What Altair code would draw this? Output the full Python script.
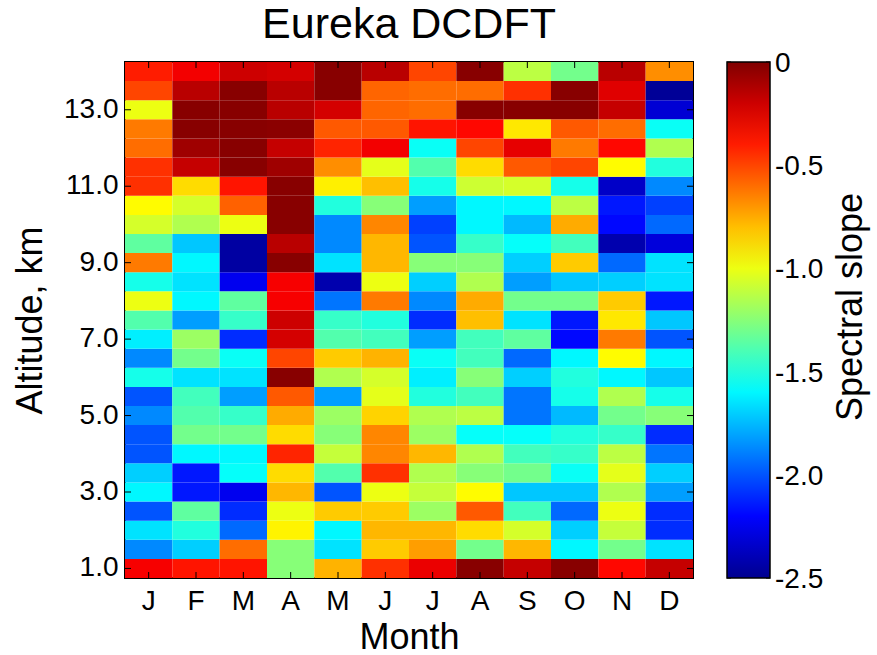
import altair as alt
import pandas as pd

# Month columns (first letter shown on the axis)
months = ["Jan", "Feb", "Mar", "Apr", "May", "Jun",
          "Jul", "Aug", "Sep", "Oct", "Nov", "Dec"]

# Altitude levels, km (bottom to top)
altitudes_km = [1.0, 1.5, 2.0, 2.5, 3.0, 3.5, 4.0, 4.5, 5.0, 5.5, 6.0, 6.5, 7.0,
                7.5, 8.0, 8.5, 9.0, 9.5, 10.0, 10.5, 11.0, 11.5, 12.0, 12.5,
                13.0, 13.5, 14.0]

# Spectral slope per month, listed from 1.0 km up to 14.0 km
jan = [-0.31, -1.87, -1.65, -2.00, -1.60, -1.70, -2.00, -2.00, -1.87, -2.00, -1.53, -1.87, -1.62,
       -1.38, -1.00, -1.53, -0.63, -1.35, -1.06, -0.95, -0.45, -0.45, -0.60, -0.63, -1.00, -0.50, -0.40]
feb = [-0.38, -1.70, -1.50, -1.35, -2.15, -2.15, -1.60, -1.30, -1.38, -1.42, -1.65, -1.30, -1.20,
       -1.82, -1.60, -1.65, -1.60, -1.72, -1.15, -1.06, -0.87, -0.18, -0.08, -0.02, -0.02, -0.15, -0.30]
mar = [-0.38, -0.60, -1.95, -2.10, -2.25, -1.57, -1.60, -1.30, -1.45, -1.82, -1.65, -1.56, -2.10,
       -1.45, -1.35, -2.25, -2.45, -2.45, -1.00, -0.57, -0.38, -0.02, -0.02, -0.02, -0.02, -0.02, -0.20]
apr = [-1.25, -1.25, -0.93, -1.00, -0.78, -0.87, -0.42, -0.87, -0.75, -0.55, -0.02, -0.50, -0.22,
       -0.20, -0.31, -0.31, -0.02, -0.15, -0.02, -0.02, -0.02, -0.08, -0.18, -0.03, -0.15, -0.15, -0.22]
may = [-0.77, -1.65, -1.60, -0.83, -2.00, -1.38, -1.10, -1.25, -1.20, -1.82, -1.15, -0.83, -1.38,
       -1.45, -1.92, -2.42, -1.65, -1.87, -1.87, -1.50, -0.92, -0.68, -0.42, -0.55, -0.22, -0.02, -0.02]
jun = [-0.45, -0.83, -0.78, -0.83, -1.00, -0.45, -0.66, -0.66, -0.85, -1.02, -1.06, -0.77, -1.42,
       -1.50, -0.63, -1.00, -0.78, -0.78, -0.66, -1.25, -0.80, -1.02, -0.30, -0.55, -0.58, -0.58, -0.15]
jul = [-0.28, -0.72, -0.78, -1.20, -1.10, -1.15, -0.78, -1.20, -1.15, -1.50, -1.62, -1.56, -1.82,
       -2.10, -1.87, -1.70, -1.25, -2.00, -2.05, -1.82, -1.53, -1.38, -1.56, -0.38, -0.60, -0.60, -0.50]
aug = [-0.02, -1.30, -0.87, -0.55, -0.95, -1.25, -1.15, -1.57, -1.12, -1.42, -1.25, -1.42, -1.42,
       -0.80, -0.75, -1.15, -1.25, -1.45, -1.60, -1.60, -1.08, -0.87, -0.50, -0.35, -0.02, -0.60, -0.02]
sep = [-0.18, -0.78, -1.06, -1.42, -1.72, -1.30, -1.42, -1.57, -1.92, -1.92, -1.70, -1.95, -1.35,
       -1.65, -1.30, -1.82, -1.70, -1.57, -1.75, -1.60, -1.06, -0.55, -0.27, -0.90, -0.02, -0.45, -1.12]
oct_ = [-0.02, -1.60, -1.70, -1.95, -1.72, -1.56, -1.45, -1.50, -1.75, -1.53, -1.50, -1.60, -2.19,
        -2.15, -1.30, -1.72, -0.83, -1.42, -0.75, -1.12, -1.53, -0.50, -0.63, -0.55, -0.02, -0.02, -1.30]
nov = [-0.35, -1.30, -1.10, -1.00, -1.15, -1.02, -1.12, -1.45, -1.30, -1.15, -1.60, -0.95, -0.63,
       -0.90, -0.83, -1.70, -1.95, -2.42, -2.19, -2.15, -2.35, -0.95, -0.35, -0.60, -0.18, -0.25, -0.15]
dec = [-0.18, -1.65, -2.10, -2.10, -1.82, -1.70, -1.92, -2.10, -1.25, -1.53, -1.72, -1.60, -2.00,
       -1.72, -2.15, -1.65, -1.65, -2.30, -1.95, -2.05, -1.87, -1.50, -1.15, -1.56, -2.32, -2.48, -0.68]

monthly = [jan, feb, mar, apr, may, jun, jul, aug, sep, oct_, nov, dec]

# Axis tick positions and colour-bar labels
y_tick_values = [1.0, 3.0, 5.0, 7.0, 9.0, 11.0, 13.0]
cbar_values = [0.0, -0.5, -1.0, -1.5, -2.0, -2.5]
cbar_labels = ["0", "-0.5", "-1.0", "-1.5", "-2.0", "-2.5"]
slope_range = [-2.5, 0.0]

# Jet-style colour map over the slope range
jet_domain = [-2.5, -2.207, -1.582, -0.957, -0.332, 0.0]
jet_colors = ["#00008f", "#0000ff", "#00ffff", "#ffff00", "#ff0000", "#800000"]

rows = []
for m, series in zip(months, monthly):
    for a, v in zip(altitudes_km, series):
        rows.append({"month": m, "altitude": a, "slope": v})
df = pd.DataFrame(rows)

FONT = "Liberation Sans"
W, H = 568, 516
CB_X, CB_W = 602, 43          # colour bar offset from the plot's left edge, and its width

x_enc = alt.X(
    "month:N", sort=months,
    scale=alt.Scale(paddingInner=0, paddingOuter=0),
    axis=alt.Axis(title="Month", labelExpr="substring(datum.label, 0, 1)",
                  labelAngle=0, ticks=False, domain=False, labelPadding=9,
                  labelFontSize=28, titleFontSize=36, titleFontWeight="normal",
                  titlePadding=5, labelColor="black", titleColor="black"),
)
y_enc = alt.Y(
    "altitude:O", sort="descending",
    scale=alt.Scale(paddingInner=0, paddingOuter=0),
    axis=alt.Axis(title="Altitude, km", values=y_tick_values,
                  labelExpr="format(datum.value, '.1f')",
                  ticks=False, domain=False, labelPadding=7,
                  labelFontSize=28, titleFontSize=36, titleFontWeight="normal",
                  titlePadding=14, labelColor="black", titleColor="black"),
)

jet_scale = alt.Scale(type="linear", domain=jet_domain, range=jet_colors,
                      interpolate="rgb", clamp=True)

heat = alt.Chart(df).mark_rect().encode(
    x=x_enc,
    y=y_enc,
    color=alt.Color(
        "slope:Q", scale=jet_scale,
        legend=alt.Legend(
            type="gradient", title=None, orient="none", legendX=CB_X, legendY=0,
            direction="vertical", gradientLength=H, gradientThickness=CB_W,
            gradientStrokeColor="black", gradientStrokeWidth=1.5,
            values=cbar_values, labelExpr="''",
        ),
    ),
)

# Inward tick marks on all four sides of the frame
month_ticks = pd.DataFrame({"month": months})
alt_ticks = pd.DataFrame({"altitude": y_tick_values})
tick_len = 6

top_ticks = alt.Chart(month_ticks).mark_rule(color="black", strokeWidth=1).encode(
    x=alt.X("month:N", sort=months), y=alt.value(0), y2=alt.value(tick_len))
bottom_ticks = alt.Chart(month_ticks).mark_rule(color="black", strokeWidth=1).encode(
    x=alt.X("month:N", sort=months), y=alt.value(H - tick_len), y2=alt.value(H))
left_ticks = alt.Chart(alt_ticks).mark_rule(color="black", strokeWidth=1).encode(
    y=alt.Y("altitude:O", sort="descending"), x=alt.value(0), x2=alt.value(tick_len))
right_ticks = alt.Chart(alt_ticks).mark_rule(color="black", strokeWidth=1).encode(
    y=alt.Y("altitude:O", sort="descending"), x=alt.value(W - tick_len), x2=alt.value(W))

panel = alt.layer(heat, top_ticks, bottom_ticks, left_ticks, right_ticks)

# Colour-bar labels, ticks and caption on their own slope scale
cbar_df = pd.DataFrame({"v": cbar_values, "label": cbar_labels})
cbar_y = alt.Y("v:Q", scale=alt.Scale(domain=slope_range, nice=False, zero=False), axis=None)

cbar_text = alt.Chart(cbar_df).mark_text(
    align="left", baseline="middle", fontSize=28, color="black", dy=2
).encode(y=cbar_y, x=alt.value(CB_X + CB_W + 5), text="label:N")
cbar_tick_l = alt.Chart(cbar_df).mark_rule(color="black", strokeWidth=1).encode(
    y=cbar_y, x=alt.value(CB_X), x2=alt.value(CB_X + 4))
cbar_tick_r = alt.Chart(cbar_df).mark_rule(color="black", strokeWidth=1).encode(
    y=cbar_y, x=alt.value(CB_X + CB_W - 4), x2=alt.value(CB_X + CB_W))
cbar_title = alt.Chart(pd.DataFrame({"label": ["Spectral slope"]})).mark_text(
    angle=270, fontSize=36, align="center", baseline="middle", color="black"
).encode(text="label:N", x=alt.value(726), y=alt.value(245))

# Chart heading centred over the plot area
heading = alt.Chart(pd.DataFrame({"label": ["Eureka DCDFT"]})).mark_text(
    fontSize=43, align="center", baseline="alphabetic", color="black"
).encode(text="label:N", x=alt.value(W / 2), y=alt.value(-24))

cbar = alt.layer(cbar_text, cbar_tick_l, cbar_tick_r, cbar_title, heading)

chart = alt.layer(panel, cbar).resolve_scale(y="independent").properties(
    width=W, height=H,
    padding={"left": 125, "top": 62, "right": 184, "bottom": 77},
    autosize="none",
).configure(font=FONT, background="white").configure_view(
    stroke="black", strokeWidth=2
).configure_legend(gradientVerticalMaxLength=H, gradientVerticalMinLength=H)

chart.save("out.html", embed_options={"renderer": "svg", "actions": False})
